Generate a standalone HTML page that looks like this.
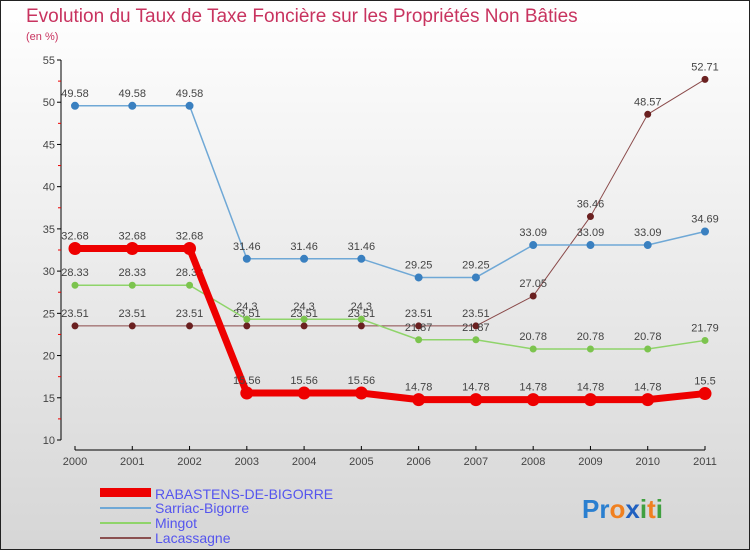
<!DOCTYPE html>
<html><head><meta charset="utf-8"><style>
body{margin:0}
svg{display:block;font-family:"Liberation Sans",sans-serif}
</style></head><body>
<svg id="c" width="750" height="550">
<defs><linearGradient id="bg" x1="0" y1="0" x2="0" y2="1"><stop offset="0" stop-color="#ffffff"/><stop offset="1" stop-color="#d6d6d6"/></linearGradient></defs>
<rect x="0.5" y="0.5" width="749" height="549" fill="url(#bg)" stroke="#222"/>
<text x="26" y="22" font-size="19" fill="#c8335f">Evolution du Taux de Taxe Foncière sur les Propriétés Non Bâties</text>
<text x="26" y="40" font-size="11" fill="#c8335f">(en %)</text>
<g id="axes"></g><g id="series"></g>
<g>
<rect x="100" y="488" width="51" height="9" fill="#ee0000"/>
<text x="155" y="499" font-size="14" fill="#5555ee">RABASTENS-DE-BIGORRE</text>
<line x1="100" y1="508" x2="151" y2="508" stroke="#6fa8d6" stroke-width="2"/>
<text x="155" y="513" font-size="14" fill="#5555ee">Sarriac-Bigorre</text>
<line x1="100" y1="523" x2="151" y2="523" stroke="#8fd46a" stroke-width="2"/>
<text x="155" y="528" font-size="14" fill="#5555ee">Mingot</text>
<line x1="100" y1="538" x2="151" y2="538" stroke="#8a5050" stroke-width="2"/>
<text x="155" y="543" font-size="14" fill="#5555ee">Lacassagne</text>
</g>
<text x="582" y="518" font-size="26" font-weight="bold"><tspan fill="#2a7fd0">Pr</tspan><tspan fill="#f08020">o</tspan><tspan fill="#2060c0">x</tspan><tspan fill="#40a040">i</tspan><tspan fill="#f08020">t</tspan><tspan fill="#40a040">i</tspan></text>
</svg>
<script>
const years=["2000","2001","2002","2003","2004","2005","2006","2007","2008","2009","2010","2011"];
const yTicks=[10,15,20,25,30,35,40,45,50,55];
const rabastens=[32.68,32.68,32.68,15.56,15.56,15.56,14.78,14.78,14.78,14.78,14.78,15.5];
const sarriac=[49.58,49.58,49.58,31.46,31.46,31.46,29.25,29.25,33.09,33.09,33.09,34.69];
const mingot=[28.33,28.33,28.33,24.3,24.3,24.3,21.87,21.87,20.78,20.78,20.78,21.79];
const lacassagne=[23.51,23.51,23.51,23.51,23.51,23.51,23.51,23.51,27.05,36.46,48.57,52.71];
const NS="http://www.w3.org/2000/svg";
const X=i=>75+i*(630/11);
const Y=v=>440-(v-10)*(380/45);
function mk(t,a,p){const e=document.createElementNS(NS,t);for(const k in a)e.setAttribute(k,a[k]);p.appendChild(e);return e;}
const ax=document.getElementById('axes');
let l=mk('line',{x1:61,y1:Y(55),x2:61,y2:Y(10),stroke:'#000'},ax);


yTicks.forEach(v=>{
 mk('line',{x1:57,y1:Y(v),x2:61,y2:Y(v),stroke:'#000'},ax);
 if(v<55)mk('line',{x1:58,y1:Y(v+2.5),x2:61,y2:Y(v+2.5),stroke:'#e00'},ax);
 const t=mk('text',{x:55,y:Y(v)+4,'font-size':11,fill:'#444','text-anchor':'end'},ax);
 t.textContent=v;
 
 
});
l=mk('line',{x1:X(0),y1:450,x2:X(11),y2:450,stroke:'#000'},ax);


years.forEach((y,i)=>{
 mk('line',{x1:X(i),y1:446,x2:X(i),y2:450,stroke:'#000'},ax);
 const t=mk('text',{x:X(i),y:465,'font-size':11,fill:'#444','text-anchor':'middle'},ax);
 t.textContent=y;
 
 
});
const sg=document.getElementById('series');
function draw(vals,color,w,r,name,pc){
 const g=mk('g',{},sg);
 
 
 mk('polyline',{points:vals.map((v,i)=>X(i)+','+Y(v)).join(' '),fill:'none',stroke:color,'stroke-width':w,'stroke-linejoin':'round'},g);
 vals.forEach((v,i)=>{
  const c=mk('circle',{cx:X(i),cy:Y(v),r:r,fill:pc,stroke:pc},g);
  
  
  const t=mk('text',{x:X(i),y:Y(v)-9,'font-size':11,fill:'#444','text-anchor':'middle'},g);
  t.textContent=String(v);
  
  
 });
}
draw(lacassagne,'#8a4a4a',1,3,'lacassagne','#6a2020');
draw(mingot,'#8fd46a',1.5,3,'mingot','#7cc44e');
draw(sarriac,'#6fa8d6',1.5,3.5,'sarriac','#3a80c0');
draw(rabastens,'#ee0000',7,6,'rabastens','#ee0000');
</script>
</body></html>
